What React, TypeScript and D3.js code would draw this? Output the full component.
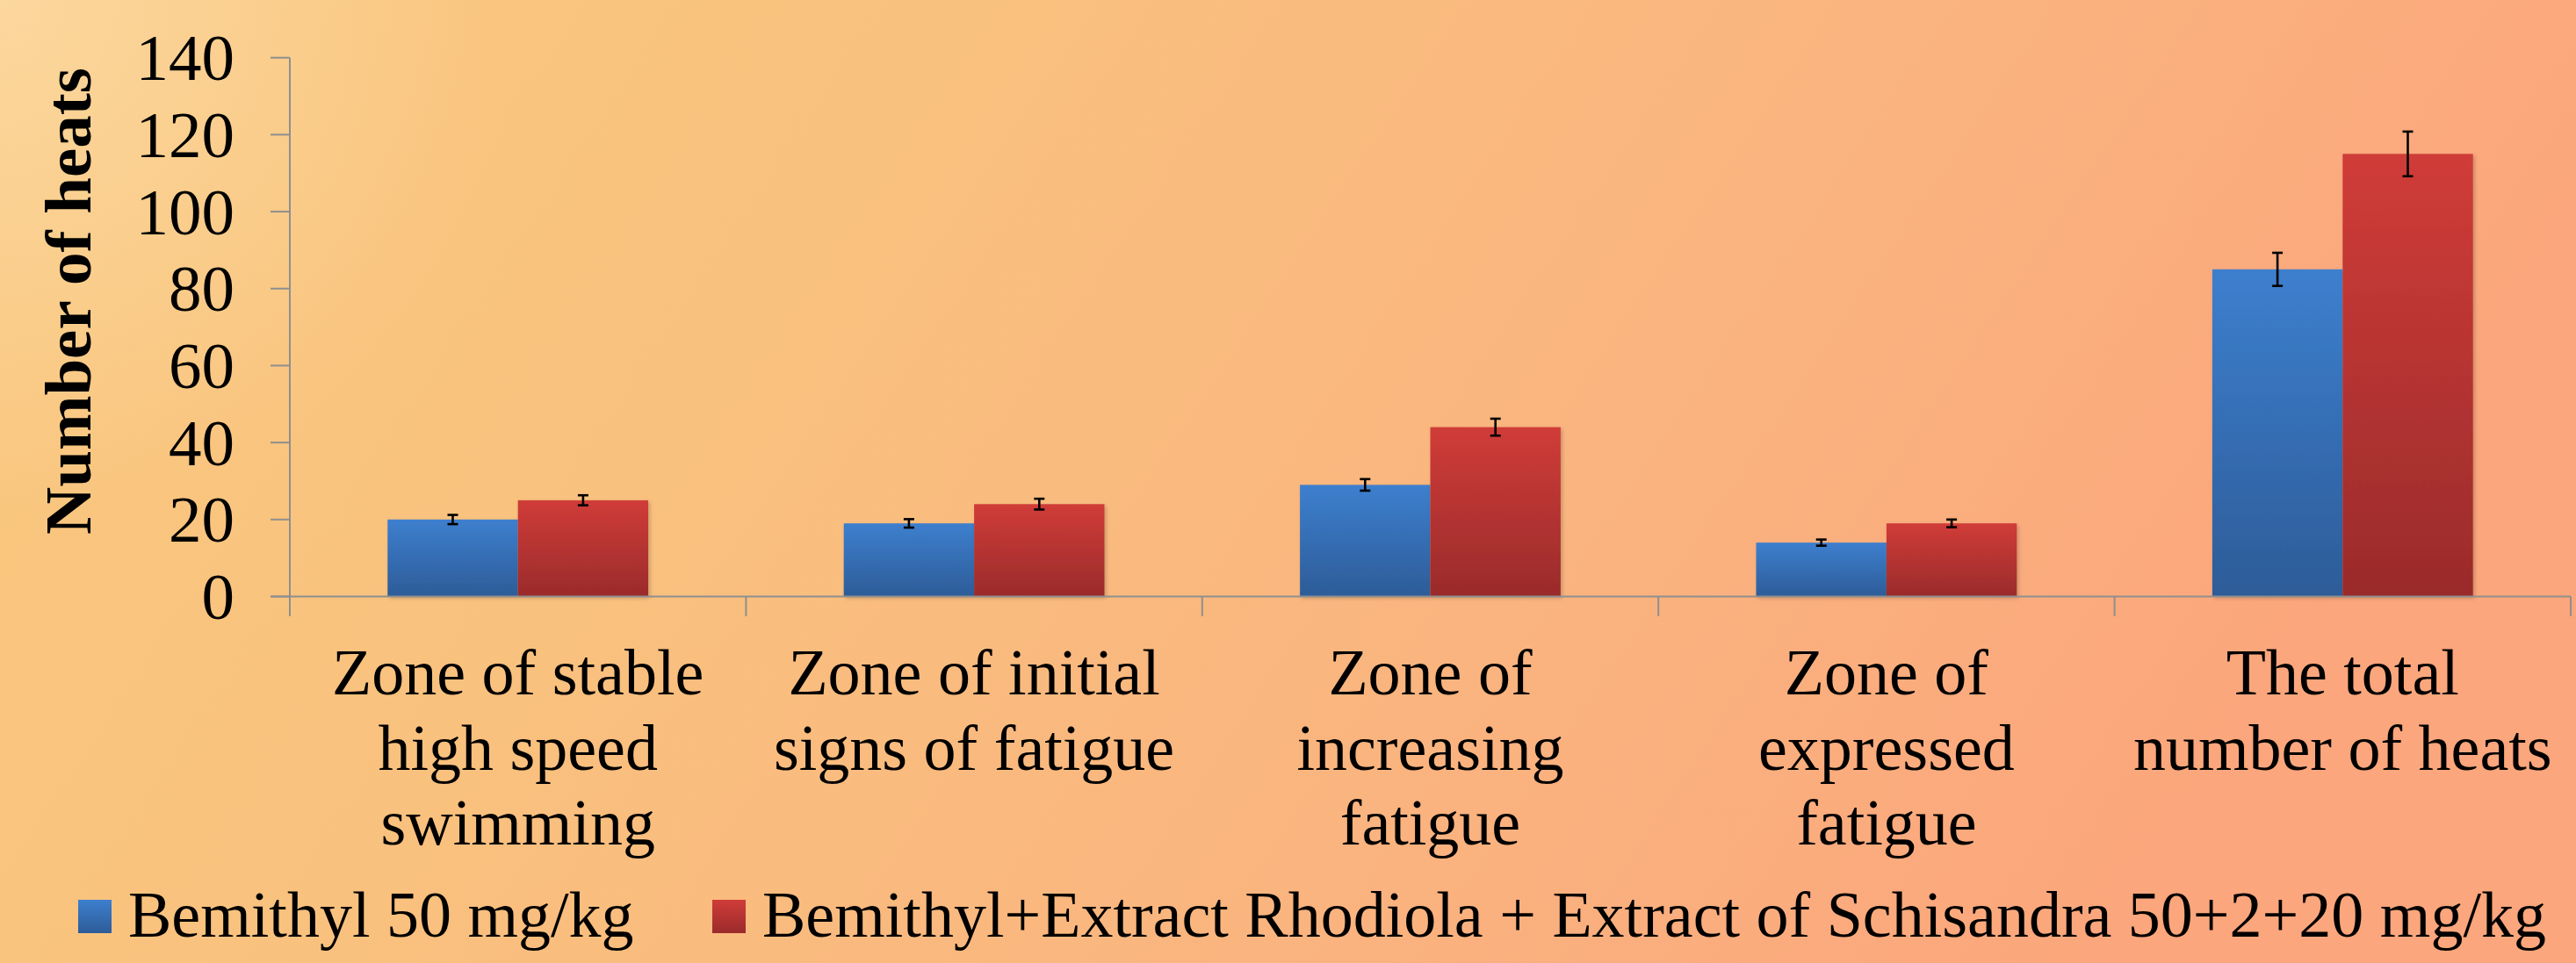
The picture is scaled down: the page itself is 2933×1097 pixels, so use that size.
import React from "react";
import * as d3 from "d3";

const categories = [
  ["Zone of stable", "high speed", "swimming"],
  ["Zone of initial", "signs of fatigue"],
  ["Zone of", "increasing", "fatigue"],
  ["Zone of", "expressed", "fatigue"],
  ["The total", "number of heats"],
];
const seriesNames = [
  "Bemithyl 50 mg/kg",
  "Bemithyl+Extract Rhodiola + Extract of Schisandra 50+2+20 mg/kg",
];
const bemithyl = [20, 19, 29, 14, 85];
const bemithylErr = [1.2, 1.1, 1.5, 0.8, 4.3];
const combo = [25, 24, 44, 19, 115];
const comboErr = [1.3, 1.4, 2.2, 1.0, 5.8];
const yTicks = [0, 20, 40, 60, 80, 100, 120, 140];
const yTitle = "Number of heats";

const W = 2933;
const H = 1097;
const left = 330;
const right = 2927;
const top = 65.7;
const bottom = 679.5;
const FONT = "'Liberation Serif', 'Times New Roman', Times, serif";

export default function App() {
  const idx = categories.map((_, i) => i);
  const x = d3.scaleBand<number>().domain(idx).range([left, right]).paddingInner(0).paddingOuter(0);
  const bw = x.bandwidth();
  const barW = bw / 3.5;
  const xs = d3.scaleBand<number>().domain([0, 1]).range([-barW, barW]);
  const y = d3.scaleLinear().domain([0, 140]).range([bottom, top]);

  const series = [
    { vals: bemithyl, errs: bemithylErr, grad: "gBlue" },
    { vals: combo, errs: comboErr, grad: "gRed" },
  ];

  const axisColor = "#8f8f8f";

  return (
    <svg
      width={W}
      height={H}
      style={{ position: "absolute", left: 0, top: 0, display: "block" }}
    >
      <defs>
        <linearGradient id="bg" x1="0" y1="0" x2="1" y2="0.25">
          <stop offset="0" stopColor="#f9c97f" />
          <stop offset="0.35" stopColor="#f9c17e" />
          <stop offset="0.7" stopColor="#fab47f" />
          <stop offset="1" stopColor="#fba67c" />
        </linearGradient>
        <radialGradient id="bgSpot" cx="0" cy="0" r="0.2" gradientTransform="scale(1,2.67)">
          <stop offset="0" stopColor="#fcd9a3" stopOpacity="0.85" />
          <stop offset="1" stopColor="#fcd9a3" stopOpacity="0" />
        </radialGradient>
        <linearGradient id="gBlue" x1="0" y1="0" x2="0" y2="1">
          <stop offset="0" stopColor="#3d7fce" />
          <stop offset="1" stopColor="#2d5c98" />
        </linearGradient>
        <linearGradient id="gRed" x1="0" y1="0" x2="0" y2="1">
          <stop offset="0" stopColor="#d03c38" />
          <stop offset="1" stopColor="#9a2b2b" />
        </linearGradient>
        <filter id="shadow" x="-10%" y="-10%" width="130%" height="130%">
          <feDropShadow dx="2" dy="2" stdDeviation="2" floodColor="#000" floodOpacity="0.2" />
        </filter>
      </defs>

      <rect x={0} y={0} width={W} height={H} fill="url(#bg)" />
      <rect x={0} y={0} width={W} height={H} fill="url(#bgSpot)" />

      {/* y title */}
      <text
        transform={`translate(103, 343) rotate(-90)`}
        textAnchor="middle"
        fontFamily={FONT}
        fontWeight="bold"
        fontSize={75}
        fill="#000"
      >
        {yTitle}
      </text>

      {/* y ticks and labels */}
      {yTicks.map((t) => (
        <g key={t}>
          <line x1={308} x2={left} y1={y(t)} y2={y(t)} stroke={axisColor} strokeWidth={2} />
          <text
            x={267}
            y={y(t)}
            dy="0.34em"
            textAnchor="end"
            fontFamily={FONT}
            fontSize={75}
            fill="#000"
          >
            {t}
          </text>
        </g>
      ))}

      {/* bars */}
      {series.map((s, si) =>
        s.vals.map((v, i) => {
          const cx = (x(i) as number) + bw / 2;
          const bx = cx + (xs(si) as number);
          return (
            <rect
              key={`b${si}-${i}`}
              x={bx}
              y={y(v)}
              width={xs.bandwidth()}
              height={y(0) - y(v)}
              fill={`url(#${s.grad})`}
              filter="url(#shadow)"
            />
          );
        })
      )}

      {/* error bars */}
      {series.map((s, si) =>
        s.vals.map((v, i) => {
          const cx = (x(i) as number) + bw / 2 + (xs(si) as number) + xs.bandwidth() / 2;
          const e = s.errs[i];
          const y1 = y(v + e);
          const y2 = y(v - e);
          return (
            <g key={`e${si}-${i}`} stroke="#000" strokeWidth={2.6}>
              <line x1={cx} x2={cx} y1={y1} y2={y2} />
              <line x1={cx - 6} x2={cx + 6} y1={y1} y2={y1} />
              <line x1={cx - 6} x2={cx + 6} y1={y2} y2={y2} />
            </g>
          );
        })
      )}

      {/* axes */}
      <line x1={left} x2={left} y1={top} y2={702} stroke={axisColor} strokeWidth={2} />
      <line x1={308} x2={right} y1={bottom} y2={bottom} stroke={axisColor} strokeWidth={2} />
      {idx.map((i) => {
        const xe = (x(i) as number) + bw;
        return (
          <line key={`t${i}`} x1={xe} x2={xe} y1={bottom} y2={702} stroke={axisColor} strokeWidth={2} />
        );
      })}

      {/* category labels */}
      {categories.map((lines, i) => {
        const cx = (x(i) as number) + bw / 2;
        return (
          <text key={`c${i}`} textAnchor="middle" fontFamily={FONT} fontSize={74} fill="#000">
            {lines.map((ln, j) => (
              <tspan key={j} x={cx} y={791 + j * 85.5}>
                {ln}
              </tspan>
            ))}
          </text>
        );
      })}

      {/* legend */}
      <rect x={89} y={1025} width={38} height={38} fill="url(#gBlue)" />
      <text x={146} y={1067} fontFamily={FONT} fontSize={74} fill="#000">
        {seriesNames[0]}
      </text>
      <rect x={811} y={1025} width={38} height={38} fill="url(#gRed)" />
      <text x={868} y={1067} fontFamily={FONT} fontSize={74} fill="#000">
        {seriesNames[1]}
      </text>
    </svg>
  );
}
